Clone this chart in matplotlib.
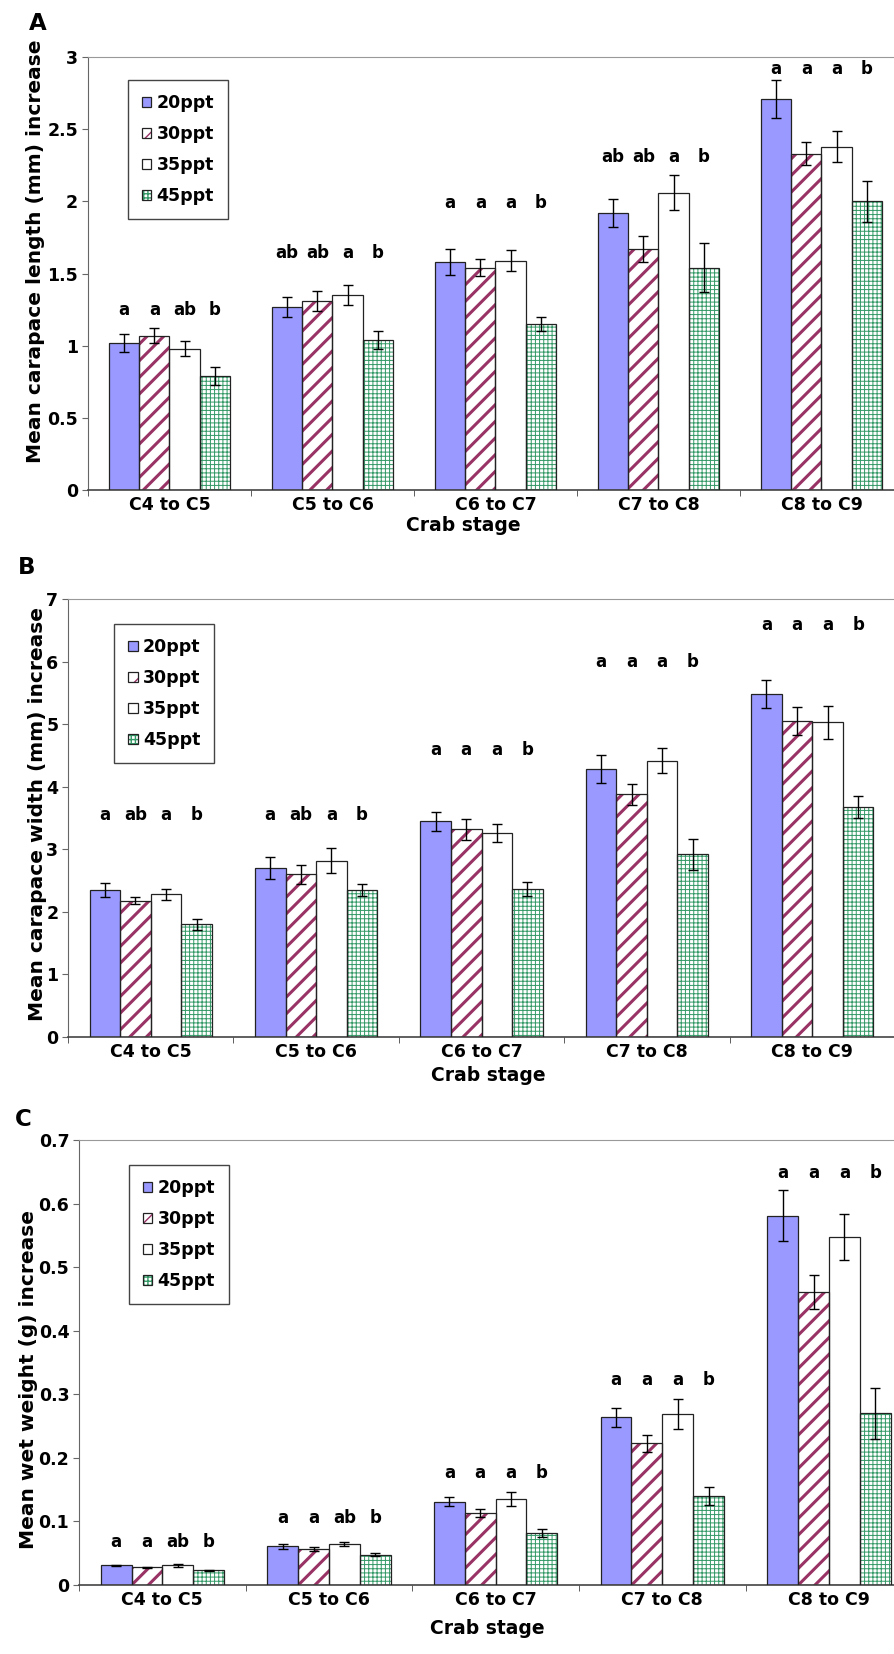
import matplotlib
matplotlib.use("Agg")
import matplotlib.pyplot as plt
import numpy as np

# groups and salinity treatments
stages = ['C4 to C5', 'C5 to C6', 'C6 to C7', 'C7 to C8', 'C8 to C9']
salinity = ['20ppt', '30ppt', '35ppt', '45ppt']

# A - carapace length increase (mm)
len_20 = [1.02, 1.27, 1.58, 1.92, 2.71]
len_30 = [1.07, 1.31, 1.54, 1.67, 2.33]
len_35 = [0.98, 1.35, 1.59, 2.06, 2.38]
len_45 = [0.79, 1.04, 1.15, 1.54, 2.00]
len_err_20 = [0.06, 0.07, 0.09, 0.10, 0.13]
len_err_30 = [0.05, 0.07, 0.06, 0.09, 0.08]
len_err_35 = [0.05, 0.07, 0.07, 0.12, 0.11]
len_err_45 = [0.06, 0.06, 0.05, 0.17, 0.14]
len_letters = [['a', 'a', 'ab', 'b'], ['ab', 'ab', 'a', 'b'], ['a', 'a', 'a', 'b'],
               ['ab', 'ab', 'a', 'b'], ['a', 'a', 'a', 'b']]
len_letter_y = [1.25, 1.64, 1.99, 2.31, 2.92]

# B - carapace width increase (mm)
wid_20 = [2.35, 2.70, 3.45, 4.28, 5.48]
wid_30 = [2.18, 2.60, 3.32, 3.88, 5.05]
wid_35 = [2.28, 2.82, 3.26, 4.42, 5.03]
wid_45 = [1.80, 2.35, 2.37, 2.92, 3.68]
wid_err_20 = [0.11, 0.17, 0.15, 0.22, 0.22]
wid_err_30 = [0.06, 0.15, 0.17, 0.17, 0.22]
wid_err_35 = [0.09, 0.20, 0.14, 0.20, 0.26]
wid_err_45 = [0.09, 0.10, 0.11, 0.25, 0.18]
wid_letters = [['a', 'ab', 'a', 'b'], ['a', 'ab', 'a', 'b'], ['a', 'a', 'a', 'b'],
               ['a', 'a', 'a', 'b'], ['a', 'a', 'a', 'b']]
wid_letter_y = [3.55, 3.55, 4.58, 5.99, 6.58]

# C - wet weight increase (g)
wt_20 = [0.031, 0.061, 0.131, 0.264, 0.581]
wt_30 = [0.028, 0.057, 0.113, 0.223, 0.461]
wt_35 = [0.031, 0.064, 0.136, 0.269, 0.547]
wt_45 = [0.023, 0.048, 0.082, 0.140, 0.270]
wt_err_20 = [0.001, 0.004, 0.007, 0.015, 0.040]
wt_err_30 = [0.001, 0.003, 0.006, 0.013, 0.026]
wt_err_35 = [0.002, 0.003, 0.011, 0.024, 0.036]
wt_err_45 = [0.001, 0.003, 0.006, 0.014, 0.040]
wt_letters = [['a', 'a', 'ab', 'b'], ['a', 'a', 'ab', 'b'], ['a', 'a', 'a', 'b'],
              ['a', 'a', 'a', 'b'], ['a', 'a', 'a', 'b']]
wt_letter_y = [0.068, 0.106, 0.177, 0.323, 0.648]

# fill colour, hatch, hatch colour, hatch linewidth for each salinity
styles = [('#9999ff', '', '#9999ff', 1.0),
          ('white', '//', '#993366', 2.2),
          ('white', '', 'white', 1.0),
          ('white', '++++', '#339966', 0.7)]

plt.rcParams['font.family'] = 'DejaVu Sans'
plt.rcParams['font.weight'] = 'bold'

fig = plt.figure(figsize=(8.94, 16.54), dpi=100)
W = 0.185
x = np.arange(len(stages))


def panel(rect, means, errs, letters, letter_y, yticks, ylabel, ylab_xy, xlab_xy, leg_xy):
    ax = fig.add_axes(rect)
    handles = []
    for i, (m, e) in enumerate(zip(means, errs)):
        fc, hatch, hc, hlw = styles[i]
        xs = x + (i - 1.5) * W
        with plt.rc_context({'hatch.linewidth': hlw}):
            b1 = ax.bar(xs, m, W, color=fc, hatch=hatch, edgecolor=hc, linewidth=0, zorder=2)
            if hasattr(b1[0], 'set_hatch_linewidth'):
                for p in b1:
                    p.set_hatch_linewidth(hlw)
        b2 = ax.bar(xs, m, W, fill=False, edgecolor='#222222', linewidth=0.9, zorder=3)
        ax.errorbar(xs, m, yerr=e, fmt='none', ecolor='black', elinewidth=1.0,
                    capsize=3.5, capthick=1.0, zorder=4)
        handles.append((b1[0], b2[0]))
        for j in range(len(stages)):
            ax.text(xs[j], letter_y[j], letters[j][i], ha='center', va='center',
                    fontsize=12, fontweight='bold')
    ax.set_xlim(-0.5, len(stages) - 0.5)
    ax.set_ylim(yticks[0], yticks[-1])
    ax.set_yticks(yticks)
    ax.set_yticklabels(['%g' % t for t in yticks])
    ax.set_xticks(x)
    ax.set_xticklabels(stages)
    ax.set_xticks(np.arange(len(stages) + 1) - 0.5, minor=True)
    ax.tick_params(axis='x', which='major', length=0, pad=4, labelsize=12.5)
    ax.tick_params(axis='x', which='minor', length=4, direction='out', color='#444444')
    ax.tick_params(axis='y', length=4, direction='out', color='#666666', labelsize=12.5, pad=3)
    ax.spines['right'].set_visible(False)
    ax.spines['top'].set_color('#999999')
    ax.spines['left'].set_color('#666666')
    ax.spines['bottom'].set_color('#444444')
    ax.spines['bottom'].set_linewidth(1.2)
    ax.set_ylabel(ylabel, fontsize=14.5, fontweight='bold')
    ax.yaxis.set_label_coords(*ylab_xy)
    ax.set_xlabel('Crab stage', fontsize=13.5, fontweight='bold')
    ax.xaxis.set_label_coords(*xlab_xy)
    leg = ax.legend(handles, salinity, loc='upper left', bbox_to_anchor=leg_xy,
                    borderaxespad=0, fontsize=12.5, handlelength=0.55, handleheight=0.55,
                    handletextpad=0.3, labelspacing=0.75, borderpad=0.8,
                    fancybox=False, framealpha=1, edgecolor='#444444')
    leg.get_frame().set_linewidth(1.0)
    return ax


panel([0.0984, 0.7037, 0.9116, 0.2618],
      [len_20, len_30, len_35, len_45], [len_err_20, len_err_30, len_err_35, len_err_45],
      len_letters, len_letter_y, [0, 0.5, 1, 1.5, 2, 2.5, 3],
      'Mean carapace length (mm) increase', (-0.053, 0.552), (0.461, -0.06), (0.049, 0.947))

panel([0.0761, 0.3730, 0.9250, 0.2648],
      [wid_20, wid_30, wid_35, wid_45], [wid_err_20, wid_err_30, wid_err_35, wid_err_45],
      wid_letters, wid_letter_y, [0, 1, 2, 3, 4, 5, 6, 7],
      'Mean carapace width (mm) increase', (-0.025, 0.509), (0.508, -0.066), (0.056, 0.943))

panel([0.0884, 0.0417, 0.9320, 0.2690],
      [wt_20, wt_30, wt_35, wt_45], [wt_err_20, wt_err_30, wt_err_35, wt_err_45],
      wt_letters, wt_letter_y, [0, 0.1, 0.2, 0.3, 0.4, 0.5, 0.6, 0.7],
      'Mean wet weight (g) increase', (-0.049, 0.461), (0.49, -0.076), (0.06, 0.944))

fig.text(38 / 894, 1 - 23 / 1654, 'A', fontsize=16.5, fontweight='bold', ha='center', va='center')
fig.text(27 / 894, 1 - 567 / 1654, 'B', fontsize=16.5, fontweight='bold', ha='center', va='center')
fig.text(23 / 894, 1 - 1120 / 1654, 'C', fontsize=16.5, fontweight='bold', ha='center', va='center')

fig.savefig('out.png', dpi=100)
